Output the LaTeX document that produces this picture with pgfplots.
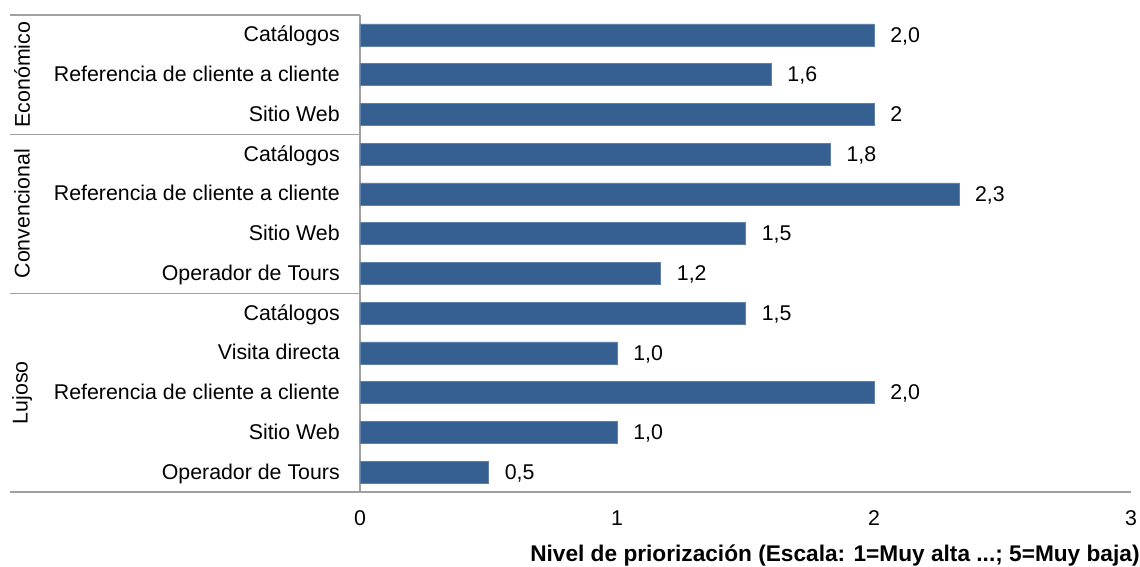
\documentclass[border=0pt]{standalone}
\usepackage{fontspec}
\setmainfont{Liberation Sans}
\usepackage{pgfplots}
\usepackage{pgfplotstable}
\pgfplotsset{compat=1.18}
\definecolor{barblue}{HTML}{376092}
\definecolor{linegray}{HTML}{A0A0A0}
\pgfplotstableread{
y x lab
11 2.00 2,0
10 1.60 1,6
9 2.00 2
8 1.83 1,8
7 2.33 2,3
6 1.50 1,5
5 1.17 1,2
4 1.50 1,5
3 1.00 1,0
2 2.00 2,0
1 1.00 1,0
0 0.50 0,5
}\datatable
\begin{document}
\begin{tikzpicture}[font=\fontsize{16}{19}\selectfont]
\useasboundingbox (-270pt,-56.25pt) rectangle (585pt,369pt);
\begin{axis}[
  at={(0,0)}, anchor=south west,
  scale only axis,
  width=578.25pt, height=357.75pt,
  xbar, bar width=16.5pt,
  xmin=0, xmax=3, ymin=-0.5, ymax=11.5,
  axis x line*=bottom, axis y line*=left,
  axis line style={draw=linegray, line width=1pt},
  every outer x axis line/.append style={-},
  every outer y axis line/.append style={-},
  major tick length=0pt,
  xtick={0,1,2,3},
  ytick={0,...,11},
  yticklabels={Operador de Tours,Sitio Web,Referencia de cliente a cliente,Visita directa,Catálogos,Operador de Tours,Sitio Web,Referencia de cliente a cliente,Catálogos,Sitio Web,Referencia de cliente a cliente,Catálogos},
  /pgf/number format/assume math mode=true,
  xticklabel style={anchor=base, inner sep=0pt, yshift=-25.5pt},
  yticklabel style={anchor=base east, inner sep=0pt, xshift=-15pt, yshift=-5.25pt},
  xlabel={Nivel de priorización (Escala: 1=Muy alta ...; 5=Muy baja)},
  xlabel style={at={(axis description cs:0.616,0)}, anchor=base, inner sep=0pt, yshift=-52.5pt, font=\fontsize{17}{20}\selectfont\bfseries},
  point meta=explicit symbolic,
  nodes near coords,
  nodes near coords style={anchor=base west, inner sep=0pt, xshift=12pt, yshift=-5.5pt, text=black},
  clip=false,
]
\addplot[fill=barblue, draw=barblue!80!white, line width=0.4pt] table[x=x, y=y, meta=lab] {\datatable};
\draw[linegray, line width=1pt] (axis cs:-1.362,11.5) -- (axis cs:0,11.5);
\draw[linegray, line width=1pt] (axis cs:-1.362,8.5) -- (axis cs:0,8.5);
\draw[linegray, line width=1pt] (axis cs:-1.362,4.5) -- (axis cs:0,4.5);
\draw[linegray, line width=1pt] (axis cs:-1.362,-0.5) -- (axis cs:0,-0.5);
\node[rotate=90, anchor=center] at (axis cs:-1.315,10) {Económico};
\node[rotate=90, anchor=center] at (axis cs:-1.315,6.5) {Convencional};
\node[rotate=90, anchor=center] at (axis cs:-1.315,2) {Lujoso};
\end{axis}
\end{tikzpicture}
\end{document}
